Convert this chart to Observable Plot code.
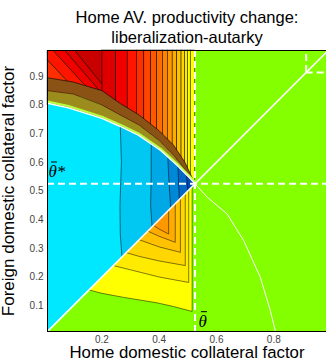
<!DOCTYPE html>
<html><head><meta charset="utf-8">
<script src="https://cdn.jsdelivr.net/npm/d3@7"></script>
<script src="https://cdn.jsdelivr.net/npm/@observablehq/plot@0.6"></script>
<style>
html,body{margin:0;padding:0;background:#fff;}
#chart{position:absolute;left:0;top:0;}
</style></head><body><div id="chart"></div>
<script>
// ---------- data ----------
const xTicks = [0.2, 0.4, 0.6, 0.8];
const yTicks = [0.1, 0.2, 0.3, 0.4, 0.5, 0.6, 0.7, 0.8, 0.9];
const domainX = [0.01, 0.984];
const domainY = [0.01, 0.99];
const thetaBar = 0.525;
const thetaUpper = 0.913;
const diagonal = [[0.01, 0.01], [0.99, 0.99]];

// cyan / red boundary (upper-left arc) and white curve (lower right)
const arcA = [[0.01,0.806],[0.083,0.79],[0.2,0.753],[0.264,0.725],[0.327,0.695],[0.404,0.642],[0.462,0.59],[0.503,0.549],[0.525,0.525]];
const whiteCurve = [[0.525,0.525],[0.567,0.479],[0.637,0.42],[0.695,0.327],[0.753,0.199],[0.788,0.0825],[0.806,0.01]];
// dense contour band above the arc
const denseMid = [[0.01,0.85],[0.1,0.838],[0.2,0.8],[0.264,0.765],[0.33,0.73],[0.4,0.676],[0.45,0.625],[0.49,0.575],[0.525,0.525]];
const denseTop = [[0.01,0.895],[0.1,0.88],[0.2,0.85],[0.264,0.805],[0.33,0.765],[0.4,0.71],[0.45,0.66],[0.49,0.6],[0.525,0.525]];

// vertical strips of the upper region
const stripEdges = [0.2,0.25,0.29,0.322,0.348,0.372,0.393,0.413,0.43,0.447,0.463,0.478,0.49,0.5,0.51,0.525];
const stripLevels = [14,13,12,11,10,9,8,7,6,5,4,3,2,1,1];
// slanted bands in the upper-left corner
const leftBands = [
  [11, [[0.01,0.957],[0.12,0.84],[0.12,0.8],[0.01,0.8]]],
  [12, [[0.01,0.99],[0.031,0.99],[0.16,0.849],[0.12,0.84],[0.01,0.957]]],
  [13, [[0.031,0.99],[0.072,0.99],[0.2,0.842],[0.16,0.849]]],
  [14, [[0.072,0.99],[0.107,0.99],[0.2,0.875],[0.2,0.842]]],
  [15, [[0.107,0.99],[0.2,0.99],[0.2,0.875]]]
];
// contour lines inside the cyan region (top at arc, bottom at diagonal)
const blueLines = [
  [[0.264,0.728],[0.268,0.6],[0.263,0.45],[0.264,0.35],[0.27,0.27]],
  [[0.372,0.668],[0.372,0.55],[0.37,0.45],[0.375,0.375]],
  [[0.43,0.622],[0.433,0.55],[0.44,0.44]],
  [[0.465,0.588],[0.468,0.52],[0.47,0.47]],
  [[0.495,0.558],[0.5,0.5]]
];
const blueLevels = [-2, -3, -4, -5, -6];
// nested contours of the lower region (start and end on the diagonal)
const lowerContours = [
  [[0.155,0.155],[0.2,0.143],[0.276,0.129],[0.392,0.11],[0.45,0.097],[0.515,0.08],[0.515,0.515]],
  [[0.24,0.24],[0.3,0.225],[0.4,0.2],[0.503,0.181],[0.503,0.503]],
  [[0.285,0.285],[0.33,0.272],[0.4,0.256],[0.491,0.24],[0.491,0.491]],
  [[0.33,0.33],[0.4,0.305],[0.474,0.286],[0.474,0.474]],
  [[0.36,0.36],[0.4,0.342],[0.456,0.321],[0.456,0.456]],
  [[0.38,0.38],[0.4,0.367],[0.433,0.35],[0.433,0.433]]
];
const lowerLevels = [1, 2, 3, 4, 5, 6];
// label anchors
const thetaStarPos = [0.0135, 0.568];
const thetaPos = [0.537, 0.046];

// ---------- styles ----------
const palette = new Map([
  [-6,"#0048B4"],[-5,"#0068C6"],[-4,"#0088D8"],[-3,"#00A8E6"],[-2,"#00C8F2"],[-1,"#00E8FF"],
  [0,"#84FF00"],[1,"#FFFF00"],[2,"#FFEB00"],[3,"#FFD600"],[4,"#FFC100"],[5,"#FFAC00"],[6,"#FF9700"],
  [7,"#FF8200"],[8,"#FF6D00"],[9,"#FF5800"],[10,"#FF4300"],[11,"#FF2E00"],[12,"#FF1400"],
  [13,"#F20000"],[14,"#DE0000"],[15,"#C80000"]
]);
const px = d => d[0], py = d => d[1];

const strips = stripLevels.map((lv, i) => ({x1: stripEdges[i], x2: stripEdges[i+1], y1: 0.52, y2: 0.99, level: lv}));
const cyanPoly = [[0.01, 0.01], ...arcA];
const denseLow = [...arcA, ...denseMid.slice().reverse()];
const denseHigh = [...denseMid, ...denseTop.slice().reverse()];

const poly = (pts, fill, extra = {}) => Plot.line(pts, {x: px, y: py, fill, curve: "linear-closed", ...extra});
const serif = {fontSize: 17, fontStyle: "italic", fontFamily: "Liberation Serif, Times New Roman, serif", fill: "#000", textAnchor: "start", lineAnchor: "middle"};
const dash = {stroke: "#fff", strokeWidth: 2, strokeDasharray: "7,4"};
// horizontal bar symbol for the over-bar of theta
const barSymbol = {draw(context, size) { const w = Math.sqrt(size) / 2; context.moveTo(-w, 0); context.lineTo(w, 0); }};
const bar = {symbol: barSymbol, r: 3.4, stroke: "#000", strokeWidth: 1, fill: "none", dx: 5.5, dy: -9.5};

const marks = [
  Plot.frame({fill: palette.get(0), stroke: null}),
  Plot.rect(strips, {x1: "x1", x2: "x2", y1: "y1", y2: "y2", fill: d => palette.get(d.level), stroke: "#000", strokeWidth: 0.5}),
  ...leftBands.map(([lv, pts]) => poly(pts, palette.get(lv), {stroke: "#000", strokeWidth: 0.5})),
  poly(denseLow, "#9C8C1E", {stroke: "none"}),
  poly(denseHigh, "#8A5214", {stroke: "none"}),
  Plot.line(denseMid, {x: px, y: py, stroke: "#000", strokeWidth: 0.4}),
  Plot.line(denseTop, {x: px, y: py, stroke: "#000", strokeWidth: 0.6}),
  poly(cyanPoly, palette.get(-1), {stroke: "none"}),
  ...blueLines.map((L, k) => poly([...L, ...arcA.filter(p => p[0] > L[0][0]).reverse()], palette.get(blueLevels[k]), {stroke: "#000", strokeWidth: 0.5})),
  ...lowerContours.map((C, k) => poly(C, palette.get(lowerLevels[k]), {stroke: "#000", strokeWidth: 0.5})),
  Plot.line(arcA, {x: px, y: py, stroke: "#B8FF40", strokeWidth: 2, dy: -1.8}),
  Plot.line(arcA, {x: px, y: py, stroke: "#fff", strokeWidth: 1.4}),
  Plot.line(diagonal, {x: px, y: py, stroke: "#fff", strokeWidth: 1.6, clip: true}),
  Plot.line(whiteCurve, {x: px, y: py, stroke: "#fff", strokeWidth: 1}),
  Plot.ruleX([thetaBar], dash),
  Plot.ruleY([thetaBar], dash),
  Plot.ruleX([thetaUpper], {y1: thetaUpper, y2: 0.99, ...dash}),
  Plot.ruleY([thetaUpper], {x1: thetaUpper, x2: 0.99, ...dash, clip: true}),
  // axes box: left, bottom, top (right side is cut off in the reference)
  Plot.ruleX([domainX[0]], {stroke: "#000", strokeWidth: 1}),
  Plot.ruleY([domainY[0], domainY[1]], {stroke: "#000", strokeWidth: 1}),
  // θ̄* label (theta, bar, star)
  Plot.text([thetaStarPos], {x: px, y: py, text: () => "θ*", ...serif}),
  Plot.dot([thetaStarPos], {x: px, y: py, ...bar}),
  // θ̄ label
  Plot.text([thetaPos], {x: px, y: py, text: () => "θ", ...serif}),
  Plot.dot([thetaPos], {x: px, y: py, ...bar}),
  Plot.text(["Home AV. productivity change:\nliberalization-autarky"], {frameAnchor: "top", text: d => d, lineAnchor: "top", dy: -41, fontSize: 16.5, lineHeight: 1.18, fill: "#000"}),
  Plot.text(["Home domestic collateral factor"], {frameAnchor: "bottom", text: d => d, lineAnchor: "middle", dy: 21.5, fontSize: 16.8, fill: "#000"}),
  Plot.text(["Foreign domestic collateral factor"], {frameAnchor: "left", text: d => d, textAnchor: "middle", lineAnchor: "middle", rotate: -90, dx: -38.5, fontSize: 17, fill: "#000"})
];

const chart = Plot.plot({
  width: 326, height: 364,
  marginLeft: 47, marginRight: 0, marginTop: 50, marginBottom: 33,
  style: {fontFamily: "Liberation Sans, Arial, sans-serif", fontSize: "10px", color: "#444", background: "#fff"},
  x: {domain: domainX, ticks: xTicks, tickSize: 0, tickPadding: 4, label: null},
  y: {domain: domainY, ticks: yTicks, tickSize: 0, tickPadding: 4, label: null},
  color: {type: "identity"},
  marks
});
document.getElementById("chart").appendChild(chart);
</script></body></html>
